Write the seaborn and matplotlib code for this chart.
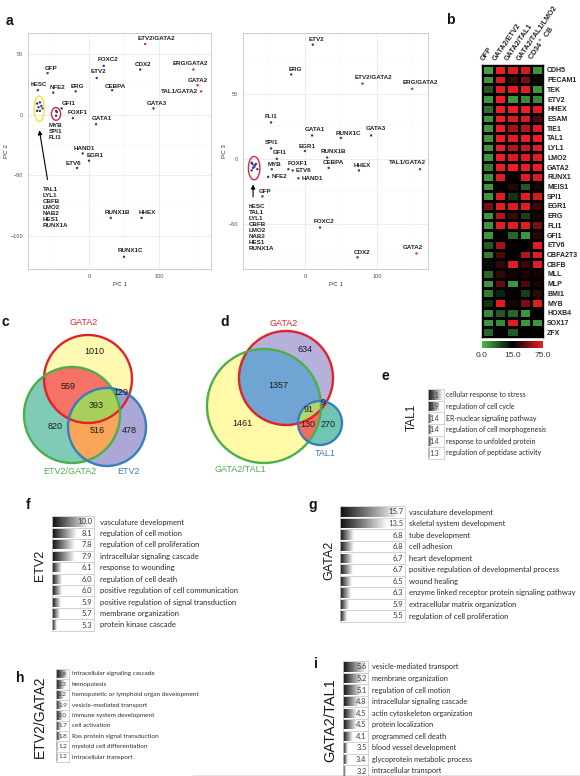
import numpy as np
import pandas as pd
import matplotlib
matplotlib.use("Agg")
import matplotlib.pyplot as plt
import seaborn as sns
from matplotlib.colors import LinearSegmentedColormap, TwoSlopeNorm
from matplotlib.patches import Circle, Ellipse, Polygon
from matplotlib.lines import Line2D

sns.set_style("white")
plt.rcParams["font.family"] = ["Liberation Sans", "DejaVu Sans"]

# ---------------------------------------------------------------- data
pca_samples = ["GFP", "hESC", "NFE2", "ERG", "GFI1", "FOXF1", "GATA1", "HAND1", "EGR1", "ETV6",
               "RUNX1B", "HHEX", "RUNX1C", "FOXC2", "ETV2", "CEBPA", "CDX2", "GATA3",
               "ETV2/GATA2", "ERG/GATA2", "GATA2", "TAL1/GATA2",
               "MYB", "SPI1", "FLI1", "TAL1", "LYL1", "CBFB", "LMO2", "NAB2", "HES1", "RUNX1A"]
pc1 = [-59, -73, -51, -19, -39, -23, 10, -9, 0, -17,
       31, 75, 50, 21, 11, 33, 73, 92,
       80, 149, 155, 160,
       -46, -47, -47, -74, -70, -72, -68, -74, -70, -66]
pc2 = [34, 20, 18, 19, 5, -3, -8, -32, -38, -44,
       -85, -85, -117, 40, 30, 20, 37, 5,
       58, 37, 24, 19,
       2, 3, -1, 9, 10, 6, 7, 3, 3, 5]
pc3 = [-29, -4, -14, 65, 0, -8, 18, -15, 6, -9,
       1, -9, 16, -53, 88, -7, -76, 18,
       58, 54, -73, -8,
       -8, 8, 28, -3, -5, -7, -4, -9, -6, -8]
pca_kind = ["combo" if "GATA2" in s else "single" for s in pca_samples]

hm_genes = ["CDH5", "PECAM1", "TEK", "ETV2", "HHEX", "ESAM", "TIE1", "TAL1", "LYL1", "LMO2",
            "GATA2", "RUNX1", "MEIS1", "SPI1", "EGR1", "ERG", "FLI1", "GFI1", "ETV6", "CBFA2T3",
            "CBFB", "MLL", "MLP", "BMI1", "MYB", "HOXB4", "SOX17", "ZFX"]
hm_conditions = ["GFP", "GATA2/ETV2", "GATA2/TAL1", "GATA2/TAL1/LMO2", "CD34$^+$ CB"]
hm_gfp = [2, 3, 8, 3, 6, 3, 3, 3, 3, 3, 5, 3, 3, 3, 45, 3, 3, 3, 8, 5, 14, 7, 3, 5, 11, 4, 3, 7]
hm_gata2_etv2 = [75, 70, 72, 75, 75, 75, 75, 75, 75, 75, 75, 72, 16, 72, 72, 60, 72, 16, 55, 35, 28, 28, 40, 12, 72, 8, 4, 16]
hm_gata2_tal1 = [70, 30, 72, 3, 75, 70, 55, 72, 60, 70, 75, 17, 25, 11, 70, 30, 72, 7, 15, 16, 72, 20, 3, 16, 22, 7, 72, 8]
hm_gata2_tal1_lmo2 = [68, 45, 72, 4, 75, 70, 60, 75, 65, 70, 75, 72, 8, 72, 72, 10, 72, 3, 15, 60, 30, 22, 35, 10, 45, 3, 3, 15]
hm_cd34 = [3, 14, 3, 4, 72, 35, 70, 75, 72, 72, 75, 70, 22, 68, 30, 22, 45, 25, 72, 72, 72, 20, 22, 28, 72, 15, 3, 15]

venn_c_sets = ["GATA2", "ETV2/GATA2", "ETV2"]
venn_c_counts = {"A": 1010, "B": 820, "C": 478, "AB": 559, "AC": 129, "BC": 516, "ABC": 393}
venn_d_sets = ["GATA2", "GATA2/TAL1", "TAL1"]
venn_d_counts = {"A": 634, "B": 1461, "C": 270, "AB": 1357, "AC": 9, "BC": 130, "ABC": 91}

f_terms = ["vasculature development", "regulation of cell motion", "regulation of cell proliferation",
           "intracellular signaling cascade", "response to wounding", "regulation of cell death",
           "positive regulation of cell communication", "positive regulation of signal transduction",
           "membrane organization", "protein kinase cascade"]
f_vals = [10.0, 8.1, 7.8, 7.9, 6.1, 6.0, 6.0, 5.9, 5.7, 5.3]
g_terms = ["vasculature development", "skeletal system development", "tube development", "cell adhesion",
           "heart development", "positive regulation of developmental process", "wound healing",
           "enzyme linked receptor protein signaling pathway", "extracellular matrix organization",
           "regulation of cell proliferation"]
g_vals = [15.7, 13.5, 6.8, 6.8, 6.7, 6.7, 6.5, 6.3, 5.9, 5.5]
e_terms = ["cellular response to stress", "regulation of cell cycle", "ER-nuclear signaling pathway",
           "regulation of cell morphogenesis", "response to unfolded protein", "regulation of peptidase activity"]
e_vals = [2.1, 1.9, 1.4, 1.4, 1.4, 1.3]
h_terms = ["intracellular signaling cascade", "hemopoiesis", "hemopoietic or lymphoid organ development",
           "vesicle-mediated transport", "immune system development", "cell activation",
           "Ras protein signal transduction", "myeloid cell differentiation", "intracellular transport"]
h_vals = [2.9, 2.3, 2.2, 1.9, 2.0, 1.7, 1.8, 1.2, 1.2]
i_terms = ["vesicle-mediated transport", "membrane organization", "regulation of cell motion",
           "intracellular signaling cascade", "actin cytoskeleton organization", "protein localization",
           "programmed cell death", "blood vessel development", "glycoprotein metabolic process",
           "intracellular transport"]
i_vals = [5.6, 5.2, 5.1, 4.8, 4.5, 4.5, 4.1, 3.5, 3.4, 3.2]

# ---------------------------------------------------------------- figure
W, H = 580, 776
fig = plt.figure(figsize=(W / 100, H / 100), dpi=100)
fig.patch.set_facecolor("white")


def px_axes(x0, y0, x1, y1):
    return fig.add_axes([x0 / W, 1 - y1 / H, (x1 - x0) / W, (y1 - y0) / H])


def ftext(x, y, s, **kw):
    return fig.text(x / W, 1 - y / H, s, **kw)


# ---------------------------------------------------------------- panel a
left_labels = {"ETV2/GATA2": (-7, 5), "GFP": (-3, 5), "FOXC2": (-6, 6), "CDX2": (-5, 5),
               "ERG/GATA2": (-21, 6), "ETV2": (-6, 7), "hESC": (-7, 6), "NFE2": (-4, 5),
               "ERG": (-5, 5), "CEBPA": (-7, 4), "GATA2": (-10, 5), "TAL1/GATA2": (-3, 0, "right"),
               "GFI1": (0, 5), "FOXF1": (-5, 6), "GATA1": (-4, 6), "GATA3": (-7, 5),
               "HAND1": (-9, 5), "EGR1": (-2, 5), "ETV6": (-11, 5), "RUNX1B": (-6, 5),
               "HHEX": (-3, 5), "RUNX1C": (-6, 6)}
right_labels = {"ETV2": (-4, 5), "ERG": (-3, 5), "ETV2/GATA2": (-8, 6), "FLI1": (-6, 6),
                "GATA1": (-7, 6), "RUNX1C": (-5, 5), "GATA3": (-5, 7), "SPI1": (-6, 6),
                "EGR1": (-6, 5), "GFI1": (-4, 6), "RUNX1B": (-7, 6), "MYB": (-4, 5),
                "FOXF1": (-1, 6), "CEBPA": (-6, 5), "HHEX": (-5, 5), "ETV6": (3, 0),
                "NFE2": (3, 0), "HAND1": (3, 0), "GFP": (-4, 5), "FOXC2": (-6, 6),
                "CDX2": (-4, 5), "ERG/GATA2": (-10, 6), "TAL1/GATA2": (-31, 7), "GATA2": (-14, 6)}


def draw_pca(ax, yvals, xlim, ylim, yticks, yminor, labels, ylabel):
    df = pd.DataFrame({"PC1": pc1, "PCy": yvals, "kind": pca_kind})
    sns.scatterplot(data=df, x="PC1", y="PCy", hue="kind",
                    palette={"single": "#2B3A8C", "combo": "#D7263D"},
                    s=3, linewidth=0, legend=False, ax=ax, zorder=3)
    ax.set_xlim(xlim)
    ax.set_ylim(ylim)
    ax.set_xticks([0, 100])
    ax.set_yticks(yticks)
    ax.set_xticks([-50, 50, 150], minor=True)
    ax.set_yticks(yminor, minor=True)
    ax.grid(True, which="major", color="#E6E6E6", lw=0.5)
    ax.grid(True, which="minor", color="#F2F2F2", lw=0.3)
    ax.set_axisbelow(True)
    for s in ax.spines.values():
        s.set_color("#C4C4C4")
        s.set_linewidth(0.6)
    ax.tick_params(which="major", labelsize=4, labelcolor="#555555", length=2, width=0.4,
                   color="#999999", pad=1.5)
    ax.tick_params(which="minor", length=0)
    ax.set_xlabel("PC 1", fontsize=4.5, color="#333333", labelpad=2)
    ax.set_ylabel(ylabel, fontsize=4.5, color="#333333", labelpad=1)
    for name, x, y in zip(pca_samples, pc1, yvals):
        if name in labels:
            spec = labels[name]
            ha = spec[2] if len(spec) > 2 else "left"
            ax.annotate(name, (x, y), xytext=(spec[0], spec[1]), textcoords="offset pixels",
                        ha=ha, va="center", fontsize=4.5, fontweight="bold", color="#222222")


ax_a1 = px_axes(28, 33, 211, 269)
draw_pca(ax_a1, pc2, (-87, 174), (-127, 67), [50, 0, -50, -100], [-125, -75, -25, 25],
         left_labels, "PC 2")
ax_a1.add_patch(Ellipse((-71, 4.7), 14, 21, fc="none", ec="#EDE43C", lw=1.0, zorder=4))
ax_a1.add_patch(Ellipse((-47, 0.5), 13, 10.5, fc="none", ec="#D7263D", lw=1.0, zorder=4))
ax_a1.text(-57, -6.6, "MYB\nSPI1\nFLI1", ha="left", va="top", fontsize=4.5, fontweight="bold",
           color="#222222", linespacing=1.25)
ax_a1.annotate("", xy=(-71.4, -10.7), xytext=(-58.6, -55.7),
               arrowprops=dict(arrowstyle="-|>", lw=0.8, color="black", mutation_scale=6))
ax_a1.text(-66, -60, "TAL1\nLYL1\nCBFB\nLMO2\nNAB2\nHES1\nRUNX1A", ha="left", va="top",
           fontsize=4.5, fontweight="bold", color="#222222", linespacing=1.25)

ax_a2 = px_axes(243, 33, 428, 269)
draw_pca(ax_a2, pc3, (-86, 171), (-85, 97), [50, 0, -50], [-75, -25, 25, 75],
         right_labels, "PC 3")
ax_a2.add_patch(Ellipse((-70.5, -7.2), 16, 18, fc="none", ec="#D7263D", lw=1.0, zorder=4))
ax_a2.annotate("", xy=(-72, -17.7), xytext=(-72, -31.5),
               arrowprops=dict(arrowstyle="-|>", lw=0.8, color="black", mutation_scale=6))
ax_a2.text(-78, -34.6, "hESC\nTAL1\nLYL1\nCBFB\nLMO2\nNAB2\nHES1\nRUNX1A", ha="left", va="top",
           fontsize=4.5, fontweight="bold", color="#222222", linespacing=1.25)

# ---------------------------------------------------------------- panel b
hm = pd.DataFrame(dict(zip(hm_conditions, [hm_gfp, hm_gata2_etv2, hm_gata2_tal1,
                                           hm_gata2_tal1_lmo2, hm_cd34])), index=hm_genes)
hm_cmap = LinearSegmentedColormap.from_list("gkr", ["#4CBB4C", "#000000", "#EE1C25"])
hm_norm = TwoSlopeNorm(vmin=0, vcenter=15, vmax=75)
ax_b = px_axes(482, 65, 543, 337)
sns.heatmap(hm, cmap=hm_cmap, norm=hm_norm, cbar=False, linewidths=0.8, linecolor="black",
            xticklabels=False, yticklabels=True, ax=ax_b)
ax_b.yaxis.tick_right()
ax_b.tick_params(axis="y", length=0, pad=3, labelsize=5)
for t in ax_b.get_yticklabels():
    t.set_rotation(0)
    t.set_fontweight("bold")
    t.set_color("#222222")
ax_b.set_xlabel("")
ax_b.set_ylabel("")
for s in ax_b.spines.values():
    s.set_visible(True)
    s.set_color("black")
    s.set_linewidth(1)
for k, cond in enumerate(hm_conditions):
    cx = 482 + (k + 0.5) * 61 / 5
    ftext(cx - 3, 62, cond, rotation=55, rotation_mode="anchor", ha="left", va="bottom",
          fontsize=5.2, fontweight="bold", color="#222222")
cax = px_axes(482, 341, 543, 348)
cb = fig.colorbar(ax_b.collections[0], cax=cax, orientation="horizontal")
cb.set_ticks([0, 15, 75])
cb.set_ticklabels(["0.0", "15.0", "75.0"])
cb.outline.set_visible(False)
cax.tick_params(length=0, labelsize=6, pad=3, labelcolor="#333333")

# ---------------------------------------------------------------- venn c, d
def venn3(ax, circles, fills, edges, counts, count_pos, names, name_pos):
    for (cx, cy, r), col in zip(circles, fills[:3]):
        ax.add_patch(Circle((cx, cy), r, fc=col, ec="none", zorder=1))
    for (i, j), col in zip([(0, 1), (0, 2), (1, 2)], fills[3:6]):
        p = Circle(circles[i][:2], circles[i][2], fc=col, ec="none", zorder=2)
        ax.add_patch(p)
        p.set_clip_path(Circle(circles[j][:2], circles[j][2], transform=ax.transData))
    pts = []
    t = np.linspace(0, 2 * np.pi, 1440)
    for k, (cx, cy, r) in enumerate(circles):
        xs, ys = cx + r * np.cos(t), cy + r * np.sin(t)
        ok = np.ones_like(xs, dtype=bool)
        for m, (ox, oy, orr) in enumerate(circles):
            if m != k:
                ok &= (xs - ox) ** 2 + (ys - oy) ** 2 <= orr ** 2 + 1e-6
        pts.append(np.column_stack([xs[ok], ys[ok]]))
    P = np.vstack(pts)
    if len(P) > 2:
        c = P.mean(axis=0)
        P = P[np.argsort(np.arctan2(P[:, 1] - c[1], P[:, 0] - c[0]))]
        ax.add_patch(Polygon(P, closed=True, fc=fills[6], ec="none", zorder=3))
    for (cx, cy, r), col in zip(circles, edges):
        ax.add_patch(Circle((cx, cy), r, fc="none", ec=col, lw=1.7, zorder=4))
    for key, (x, y) in count_pos.items():
        ax.text(x, y, str(counts[key]), ha="center", va="center", fontsize=6.5,
                color="#1a1a1a", zorder=5)
    for nm, (x, y), col in zip(names, name_pos, edges):
        ax.text(x, y, nm, ha="center", va="center", fontsize=6.5, color=col, zorder=5)


edge_cols = ["#E0222B", "#4DAF4A", "#3A7DBF"]
ax_c = px_axes(0, 300, 195, 480)
ax_c.set_xlim(0, 195)
ax_c.set_ylim(480, 300)
ax_c.axis("off")
venn3(ax_c, [(88, 379, 44), (72, 415, 48), (107, 427, 39)],
      ["#FFF9B1", "#7FCBB8", "#ABA7D6", "#F47266", "#8FA3D6", "#F9A65A", "#A9CF5B"],
      edge_cols, venn_c_counts,
      {"A": (94, 352), "AB": (68, 387), "AC": (121, 393), "ABC": (96, 406),
       "B": (55, 427), "BC": (97, 431), "C": (129, 431)},
      venn_c_sets, [(84, 323), (70, 471), (128, 471)])

ax_d = px_axes(195, 300, 380, 480)
ax_d.set_xlim(195, 380)
ax_d.set_ylim(480, 300)
ax_d.axis("off")
venn3(ax_d, [(286, 378, 47), (264, 406, 57), (320, 423, 22)],
      ["#B6B1DA", "#FFF9A8", "#6EC6B3", "#6FA4D3", "#8FA3D6", "#F26D60", "#B3D56C"],
      edge_cols, venn_d_counts,
      {"A": (305, 350), "AB": (278, 386), "AC": (323, 403), "ABC": (309, 410),
       "B": (242, 424), "BC": (308, 425), "C": (328, 425)},
      venn_d_sets, [(284, 324), (240, 470), (325, 453)])

# ---------------------------------------------------------------- GO panels
grad_cmap = LinearSegmentedColormap.from_list("grad", ["#0d0d0d", "#ffffff"])
box_col = "#C3CCDA"


def go_panel(x0, x1, first_c, last_c, terms, vals, title, title_xy, title_fs, fs, num_pad, gap):
    n = len(terms)
    sp = (last_c - first_c) / (n - 1)
    ax = px_axes(x0, first_c - sp / 2, x1, last_c + sp / 2)
    vmin, vmax = min(vals), max(vals)
    frac = [0.1 + 0.8 * (v - vmin) / (vmax - vmin) for v in vals]
    sns.barplot(x=frac, y=terms, orient="h", ax=ax, color="k", width=0.8,
                saturation=1, errorbar=None)
    for p in list(ax.patches):
        bx, by, bw, bh = p.get_x(), p.get_y(), p.get_width(), p.get_height()
        im = ax.imshow(np.linspace(0, 1, 256)[None, :], cmap=grad_cmap,
                       extent=(bx, bx + bw, by, by + bh), aspect="auto", zorder=2)
        im.set_clip_path(p)
        p.set_facecolor("none")
        p.set_edgecolor("none")
    ax.set_xlim(0, 1)
    ax.set_ylim(n - 0.5, -0.5)
    ax.set_xticks([])
    ax.set_yticks([])
    ax.set_xlabel("")
    ax.set_ylabel("")
    for k in range(1, n):
        ax.axhline(k - 0.5, color=box_col, lw=0.6, zorder=1)
    for s in ax.spines.values():
        s.set_visible(True)
        s.set_color(box_col)
        s.set_linewidth(0.6)
    bw_px = x1 - x0
    for k, (term, v) in enumerate(zip(terms, vals)):
        ax.text(1 - num_pad / bw_px, k, f"{v:.1f}", ha="right", va="center", fontsize=fs,
                color="#3a3a3a", family=["Lato", "DejaVu Sans"], zorder=4)
        ax.text(1 + gap / bw_px, k, term, ha="left", va="center", fontsize=fs,
                color="#2a2a2a", family=["Lato", "DejaVu Sans"], clip_on=False)
    ftext(title_xy[0], title_xy[1], title, rotation=90, ha="center", va="center",
          fontsize=title_fs, color="#1a1a1a")


go_panel(52, 94, 522, 625, f_terms, f_vals, "ETV2", (40, 565), 9, 5.5, 1.5, 6)
go_panel(340, 405, 512, 616, g_terms, g_vals, "GATA2", (329, 560), 9, 5.5, 1.5, 4)
go_panel(428, 444, 395, 453, e_terms, e_vals, "TAL1", (412, 417), 8.5, 5, 5, 2)
go_panel(56, 69, 674, 757, h_terms, h_vals, "ETV2/GATA2", (40, 717), 10, 4.6, 2, 3)
go_panel(343, 368, 667, 771, i_terms, i_vals, "GATA2/TAL1", (330, 720), 10.5, 5.3, 1.5, 4)

fig.add_artist(Line2D([193 / W, 1.0], [1 - 775.5 / H] * 2, color="#777777", lw=1,
                      transform=fig.transFigure))

# ---------------------------------------------------------------- panel letters
for letter, (x, y) in {"a": (9, 21), "b": (450, 20), "c": (5, 322), "d": (225, 322),
                       "e": (385, 376), "f": (28, 505), "g": (313, 505), "h": (20, 678),
                       "i": (316, 664)}.items():
    ftext(x, y, letter, fontsize=10, fontweight="bold", ha="center", va="center", color="#111111")

fig.savefig("out.png", dpi=100, facecolor="white")
